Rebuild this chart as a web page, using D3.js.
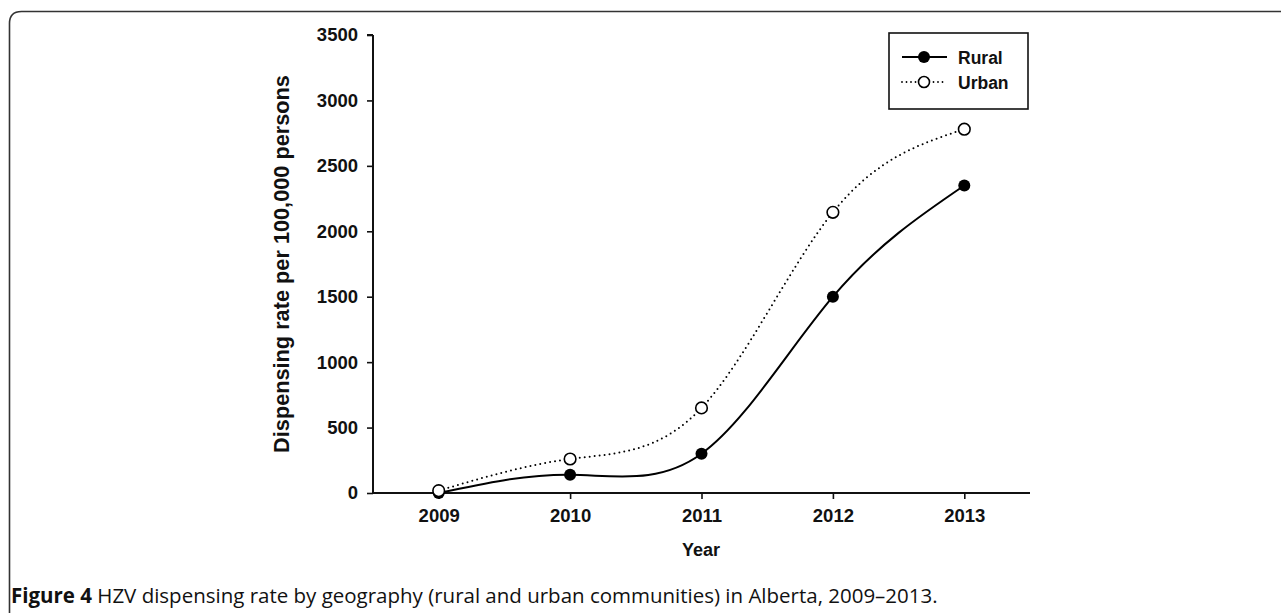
<!DOCTYPE html>
<html>
<head>
<meta charset="utf-8">
<script src="https://cdn.jsdelivr.net/npm/d3@7/dist/d3.min.js"></script>
<style>
  html, body { margin: 0; padding: 0; background: #fff; }
  svg { display: block; }
</style>
</head>
<body>
<svg id="chart" width="1281" height="613"></svg>
<script>
// ---- data ----
const years = [2009, 2010, 2011, 2012, 2013];
const ruralValues = [0, 140, 300, 1500, 2350];
const urbanValues = [18, 260, 650, 2145, 2780];
const yTicks = [0, 500, 1000, 1500, 2000, 2500, 3000, 3500];
const seriesNames = ["Rural", "Urban"];
const yLabel = "Dispensing rate per 100,000 persons";
const xLabel = "Year";
const captionBold = "Figure 4";
const captionText = " HZV dispensing rate by geography (rural and urban communities) in Alberta, 2009\u20132013.";

const svg = d3.select("#chart");
const W = 1281, H = 613;

// frame (rounded top-left corner)
const fx = 9.5, fy = 11.5, r = 12;
svg.append("path")
  .attr("d", `M${fx},${H + 2} L${fx},${fy + r} Q${fx},${fy} ${fx + r},${fy} L${W + 2},${fy}`)
  .attr("fill", "none").attr("stroke", "#333").attr("stroke-width", 1.6);

const x = d3.scaleLinear().domain([2008.5, 2013.5]).range([373, 1030]);
const y = d3.scaleLinear().domain([0, 3500]).range([493, 35]);

const axisFont = "'Liberation Sans', Arial, sans-serif";

// y axis
const yAxis = svg.append("g").attr("transform", `translate(${x(2008.5)},0)`)
  .call(d3.axisLeft(y).tickValues(yTicks).tickSize(6).tickPadding(9).tickFormat(d3.format("d")));
yAxis.select(".domain").attr("d", `M0,${y(3500)}H-6M0,${y(3500)}V${y(0)}`);
// x axis
const xAxis = svg.append("g").attr("transform", `translate(0,${y(0)})`)
  .call(d3.axisBottom(x).tickValues(years).tickSize(6).tickPadding(10).tickFormat(d3.format("d")));
xAxis.select(".domain").attr("d", `M${x(2008.5)},0H${x(2013.5)}`);

[yAxis, xAxis].forEach(a => {
  a.select(".domain").attr("stroke", "#111").attr("stroke-width", 2);
  a.selectAll(".tick line").attr("stroke", "#111").attr("stroke-width", 1.6);
  a.selectAll(".tick text").attr("fill", "#111")
    .style("font-family", axisFont).style("font-weight", "bold").style("font-size", "18.5px");
});

// axis titles
svg.append("text")
  .attr("transform", `translate(289,${(y(0) + y(3500)) / 2 + 0}) rotate(-90)`)
  .attr("text-anchor", "middle")
  .style("font-family", axisFont).style("font-weight", "bold").style("font-size", "19px")
  .attr("fill", "#111").text(yLabel);

svg.append("text")
  .attr("x", 701).attr("y", 556).attr("text-anchor", "middle")
  .style("font-family", axisFont).style("font-weight", "bold").style("font-size", "18px")
  .attr("fill", "#111").text(xLabel);

// lines
const line = d3.line().x((d, i) => x(years[i])).y(d => y(d)).curve(d3.curveNatural);

svg.append("path").datum(ruralValues).attr("d", line)
  .attr("fill", "none").attr("stroke", "#000").attr("stroke-width", 2);
svg.append("path").datum(urbanValues).attr("d", line)
  .attr("fill", "none").attr("stroke", "#000").attr("stroke-width", 2)
  .attr("stroke-dasharray", "0 5").attr("stroke-linecap", "round");

svg.append("g").selectAll("circle").data(ruralValues).join("circle")
  .attr("cx", (d, i) => x(years[i])).attr("cy", d => y(d)).attr("r", 6)
  .attr("fill", "#000");
svg.append("g").selectAll("circle").data(urbanValues).join("circle")
  .attr("cx", (d, i) => x(years[i])).attr("cy", d => y(d)).attr("r", 5.8)
  .attr("fill", "#fff").attr("stroke", "#000").attr("stroke-width", 1.6);

// legend
const lg = svg.append("g");
lg.append("rect").attr("x", 889).attr("y", 33).attr("width", 139).attr("height", 76)
  .attr("fill", "#fff").attr("stroke", "#111").attr("stroke-width", 1.6);
const legRows = [{name: seriesNames[0], yy: 57, filled: true}, {name: seriesNames[1], yy: 82, filled: false}];
legRows.forEach(row => {
  const l = lg.append("line").attr("x1", 902).attr("x2", 947).attr("y1", row.yy).attr("y2", row.yy)
    .attr("stroke", "#000").attr("stroke-width", 2);
  if (!row.filled) l.attr("stroke-dasharray", "0 4.5").attr("stroke-linecap", "round").attr("stroke-width", 1.8);
  lg.append("circle").attr("cx", 924).attr("cy", row.yy).attr("r", row.filled ? 6 : 5.5)
    .attr("fill", row.filled ? "#000" : "#fff").attr("stroke", "#000").attr("stroke-width", row.filled ? 0 : 1.6);
  lg.append("text").attr("x", 958).attr("y", row.yy + 6.5)
    .style("font-family", axisFont).style("font-weight", "bold").style("font-size", "17.5px")
    .attr("fill", "#111").text(row.name);
});

// caption
const cap = svg.append("text").attr("x", 11).attr("y", 603)
  .style("font-family", "'Open Sans', 'Noto Sans', sans-serif").style("font-size", "15px").attr("fill", "#111");
cap.append("tspan").style("font-weight", "bold").text(captionBold);
cap.append("tspan").text(captionText);
const capLen = cap.node().getComputedTextLength();
cap.style("font-size", (15 * 927 / capLen) + "px");

// fit y label to span
const yl = svg.selectAll("text").filter(function() { return d3.select(this).text() === yLabel; });
const ylLen = yl.node().getComputedTextLength();
yl.style("font-size", (19 * 378 / ylLen) + "px");
</script>
</body>
</html>
